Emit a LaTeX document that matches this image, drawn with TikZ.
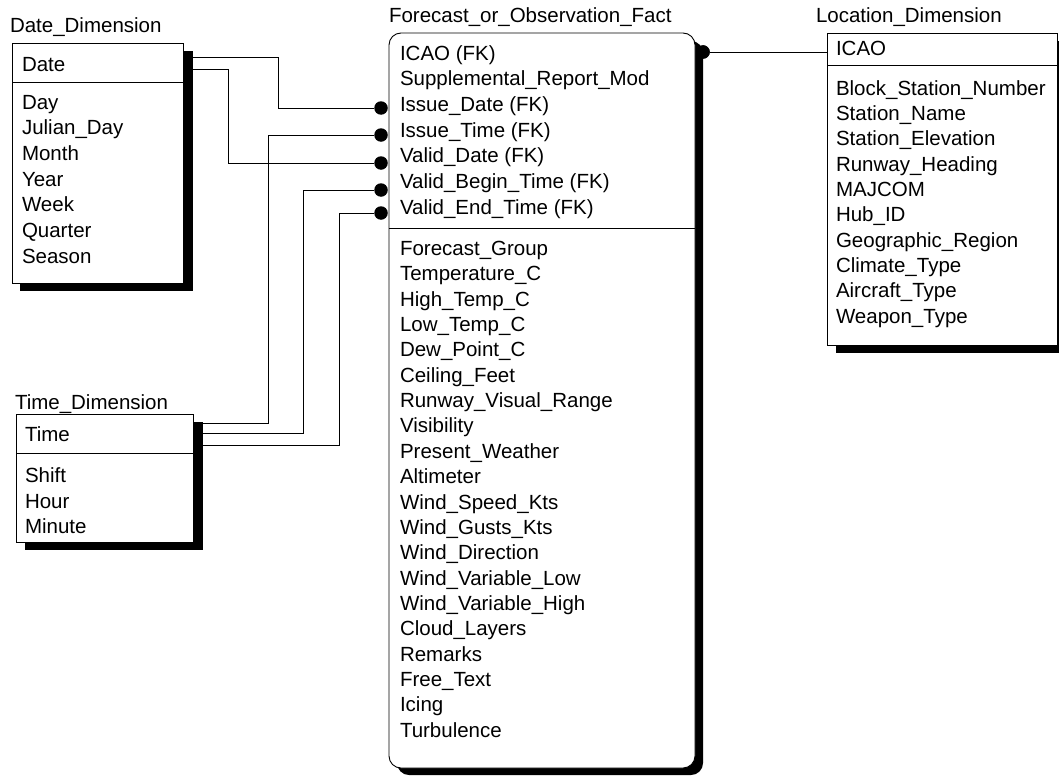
\documentclass[tikz,border=0pt]{standalone}
\usepackage{fontspec}
\setmainfont{Liberation Sans}
\begin{document}
\begin{tikzpicture}[x=1pt,y=-1pt,
  every node/.style={font=\fontsize{20.5}{24}\selectfont, inner sep=0pt, outer sep=0pt},
  row/.style={anchor=west, text height=14.6pt, text depth=0pt},
  tabtitle/.style={anchor=west, text height=14.6pt, text depth=0pt},
  tbox/.style={draw, line width=0.9pt, fill=white, anchor=north west},
  shade/.style={fill=black},
  sep/.style={line width=0.9pt},
  link/.style={line width=0.9pt},
  fkdot/.style={circle, fill=black, minimum size=13.5pt, inner sep=0pt}]
\useasboundingbox (0,0) rectangle (1059,776);
\clip (0,0) rectangle (1059,776);

% ---------- connector start points ----------
\coordinate (ds1) at (193,57);
\coordinate (ds2) at (193,69);
\coordinate (ts1) at (200,423);
\coordinate (ts2) at (200,433);
\coordinate (ts3) at (200,445);

% ---------- dots (positions) ----------
\node[fkdot] (fkIssueDate) at (381,108) {};
\node[fkdot] (fkIssueTime) at (381,135) {};
\node[fkdot] (fkValidDate) at (381,163) {};
\node[fkdot] (fkValidBegin) at (381,190) {};
\node[fkdot] (fkValidEnd) at (381,213) {};
\node[fkdot] (fkICAO) at (703,52) {};

% ---------- connectors ----------
\draw[link] (ds1) -| (278,108) -- (fkIssueDate);
\draw[link] (ds2) -| (228,163) -- (fkValidDate);
\draw[link] (fkIssueTime) -- (268,135) |- (ts1);
\draw[link] (fkValidBegin) -- (303,190) |- (ts2);
\draw[link] (fkValidEnd) -- (339,213) |- (ts3);

% ---------- Date_Dimension ----------
\node[tabtitle] (dateTitle) at (10,25) {Date\_Dimension};
\fill[shade] (20,51) rectangle (193,291);
\node[tbox, minimum width=171pt, minimum height=240pt] (dateBox) at (12,43) {};
\draw[sep] (12,82) -- (183,82);
\node[row] (dDate) at (22,64) {Date};
\foreach \t [count=\i from 0] in {Day,Julian\_Day,Month,Year,Week,Quarter,Season}
  \node[row] (d\i) at (22,{102+25.67*\i}) {\t};

% ---------- Time_Dimension ----------
\node[tabtitle] (timeTitle) at (15,402) {Time\_Dimension};
\fill[shade] (25,422) rectangle (203,550);
\node[tbox, minimum width=177pt, minimum height=128pt] (timeBox) at (16,414) {};
\draw[sep] (16,453) -- (193,453);
\node[row] (tTime) at (25,434) {Time};
\node[row] (tShift) at (25,475) {Shift};
\node[row] (tHour) at (25,501) {Hour};
\node[row] (tMinute) at (25,526) {Minute};

% ---------- Fact ----------
\node[tabtitle] (factTitle) at (389,15) {Forecast\_or\_Observation\_Fact};
\fill[shade, rounded corners=12pt] (397,41) rectangle (703,775);
\node[tbox, rounded corners=12pt, minimum width=306pt, minimum height=735pt] (factBox) at (389,33) {};
\draw[sep] (389,228) -- (695,228);
\foreach \t [count=\i from 0] in {ICAO (FK),Supplemental\_Report\_Mod,Issue\_Date (FK),Issue\_Time (FK),Valid\_Date (FK),Valid\_Begin\_Time (FK),Valid\_End\_Time (FK)}
  \node[row] (k\i) at (400,{53+25.67*\i}) {\t};
\foreach \t [count=\i from 0] in {Forecast\_Group,Temperature\_C,High\_Temp\_C,Low\_Temp\_C,Dew\_Point\_C,Ceiling\_Feet,Runway\_Visual\_Range,Visibility,Present\_Weather,Altimeter,Wind\_Speed\_Kts,Wind\_Gusts\_Kts,Wind\_Direction,Wind\_Variable\_Low,Wind\_Variable\_High,Cloud\_Layers,Remarks,Free\_Text,Icing,Turbulence}
  \node[row] (f\i) at (400,{248+25.37*\i}) {\t};

% ---------- Location_Dimension ----------
\node[tabtitle] (locTitle) at (816,15) {Location\_Dimension};
\fill[shade] (836,41) rectangle (1067,353);
\node[tbox, minimum width=230pt, minimum height=312pt] (locBox) at (827,33) {};
\draw[sep] (827,65) -- (1057,65);
\node[row] (lICAO) at (836,48) {ICAO};
\foreach \t [count=\i from 0] in {Block\_Station\_Number,Station\_Name,Station\_Elevation,Runway\_Heading,MAJCOM,Hub\_ID,Geographic\_Region,Climate\_Type,Aircraft\_Type,Weapon\_Type}
  \node[row] (l\i) at (836,{88+25.3*\i}) {\t};

% ---------- fact-location link ----------
\draw[link] (fkICAO) -- (locBox.west |- fkICAO);
\node[fkdot] at (fkICAO) {};
\end{tikzpicture}
\end{document}
